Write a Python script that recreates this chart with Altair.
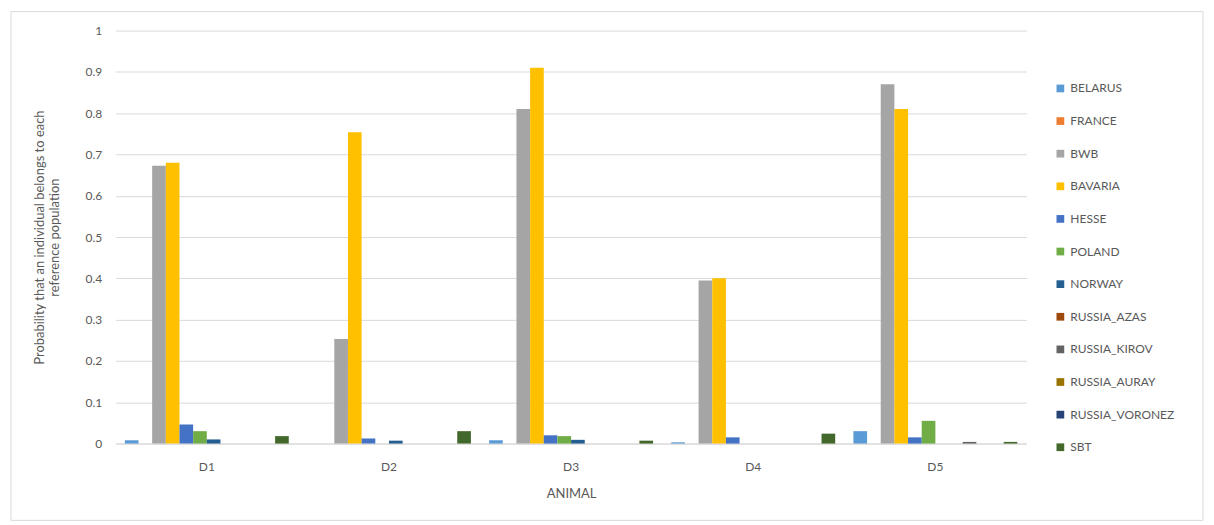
import altair as alt
import pandas as pd

animals = ["D1", "D2", "D3", "D4", "D5"]
series = ["BELARUS", "FRANCE", "BWB", "BAVARIA", "HESSE", "POLAND", "NORWAY",
          "RUSSIA_AZAS", "RUSSIA_KIROV", "RUSSIA_AURAY", "RUSSIA_VORONEZ", "SBT"]
colors = ["#5B9BD5", "#ED7D31", "#A5A5A5", "#FFC000", "#4472C4", "#70AD47",
          "#255E91", "#9E480E", "#636363", "#997300", "#264478", "#43682B"]

belarus = [0.008, 0.0, 0.008, 0.003, 0.030]
france = [0.0, 0.0, 0.0, 0.0, 0.0]
bwb = [0.673, 0.253, 0.810, 0.395, 0.870]
bavaria = [0.680, 0.754, 0.910, 0.400, 0.810]
hesse = [0.046, 0.012, 0.020, 0.015, 0.015]
poland = [0.030, 0.0, 0.018, 0.0, 0.055]
norway = [0.010, 0.007, 0.009, 0.0, 0.0]
russia_azas = [0.0, 0.0, 0.0, 0.0, 0.0]
russia_kirov = [0.0, 0.0, 0.0, 0.0, 0.004]
russia_auray = [0.0, 0.0, 0.0, 0.0, 0.0]
russia_voronez = [0.0, 0.0, 0.0, 0.0, 0.0]
sbt = [0.018, 0.030, 0.007, 0.024, 0.004]

values = [belarus, france, bwb, bavaria, hesse, poland, norway,
          russia_azas, russia_kirov, russia_auray, russia_voronez, sbt]

rows = []
for s, vals in zip(series, values):
    for a, v in zip(animals, vals):
        rows.append({"animal": a, "population": s, "p": v})
df = pd.DataFrame(rows)

FONT = "Lato"
TXT = "#595959"

bars = alt.Chart(df).mark_bar().encode(
    x=alt.X("animal:N", sort=animals,
            scale=alt.Scale(paddingInner=0.1, paddingOuter=0.05),
            axis=alt.Axis(title="ANIMAL", labelAngle=0, ticks=False,
                          domainColor="#d9d9d9", labelPadding=18,
                          titlePadding=15)),
    xOffset=alt.XOffset("population:N", sort=series,
                        scale=alt.Scale(paddingInner=0, paddingOuter=0)),
    y=alt.Y("p:Q", scale=alt.Scale(domain=[0, 1]),
            axis=alt.Axis(values=[i / 10 for i in range(11)],
                          labelExpr="format(datum.value, '~g')",
                          title=["Probability that an individual belongs to each",
                                 "reference population"],
                          domain=False, ticks=False, labelPadding=14,
                          gridColor="#d9d9d9", titlePadding=24)),
    color=alt.Color("population:N", sort=series,
                    scale=alt.Scale(domain=series, range=colors),
                    legend=alt.Legend(title=None, orient="none",
                                      legendX=941, legendY=52,
                                      symbolType="square", symbolSize=60,
                                      symbolStrokeWidth=0,
                                      labelFontSize=12, labelColor=TXT,
                                      labelFont=FONT, rowPadding=20.7)),
)

border = alt.Chart(pd.DataFrame({"a": [0]})).mark_rect(
    filled=False, stroke="#d9d9d9", strokeWidth=1, clip=False
).encode(
    x=alt.value(-105), x2=alt.value(1090),
    y=alt.value(-19), y2=alt.value(491)
)

chart = alt.layer(border, bars).properties(
    width=913, height=414,
    padding={"left": 2, "top": 2, "right": 2, "bottom": 2},
).configure_view(stroke=None).configure_axis(
    labelFont=FONT, titleFont=FONT, labelColor=TXT, titleColor=TXT,
    labelFontSize=12, titleFontSize=13, titleFontWeight="normal",
)

chart.save("out.html", embed_options={"renderer": "svg", "actions": False})
